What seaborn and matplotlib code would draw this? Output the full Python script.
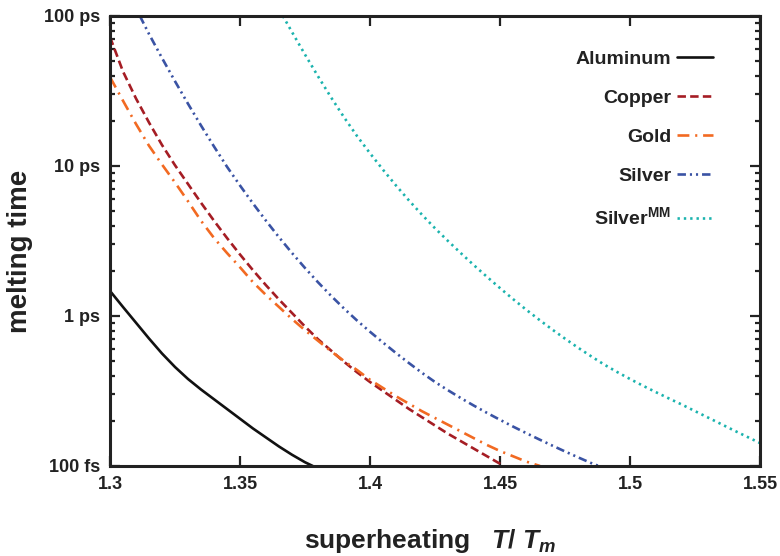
import numpy as np
import pandas as pd
import matplotlib
matplotlib.use("Agg")
import matplotlib.pyplot as plt
import seaborn as sns
from matplotlib.ticker import LogLocator, NullFormatter, FixedLocator

sns.set_theme(style="ticks")
plt.rcParams["font.family"] = ["Liberation Sans", "DejaVu Sans"]
plt.rcParams["font.weight"] = "bold"
plt.rcParams["mathtext.fontset"] = "custom"
plt.rcParams["mathtext.rm"] = "Liberation Sans:bold"
plt.rcParams["mathtext.it"] = "Liberation Sans:italic:bold"
plt.rcParams["mathtext.bf"] = "Liberation Sans:bold"

# melting time as log10(t / ps) versus superheating T/Tm
al_x = [1.300, 1.305, 1.310, 1.315, 1.320, 1.325, 1.330, 1.335, 1.340, 1.345,
        1.350, 1.355, 1.360, 1.365, 1.370, 1.375, 1.378]
al_lt = [0.167, 0.060, -0.045, -0.150, -0.250, -0.340, -0.420, -0.490, -0.555, -0.620,
         -0.685, -0.750, -0.810, -0.870, -0.925, -0.975, -1.000]

cu_x = [1.300, 1.305, 1.310, 1.315, 1.320, 1.325, 1.330, 1.335, 1.340, 1.345,
        1.350, 1.355, 1.360, 1.365, 1.370, 1.375, 1.380, 1.385, 1.390, 1.395,
        1.400, 1.405, 1.410, 1.415, 1.420, 1.425, 1.430, 1.435, 1.440, 1.445,
        1.450, 1.4515]
cu_lt = [1.860, 1.630, 1.450, 1.290, 1.140, 1.005, 0.880, 0.755, 0.635, 0.520,
         0.410, 0.305, 0.205, 0.110, 0.020, -0.070, -0.155, -0.230, -0.305, -0.375,
         -0.440, -0.500, -0.560, -0.620, -0.675, -0.730, -0.785, -0.835, -0.885, -0.935,
         -0.985, -1.000]

au_x = [1.300, 1.305, 1.310, 1.315, 1.320, 1.325, 1.330, 1.335, 1.340, 1.345,
        1.350, 1.355, 1.360, 1.365, 1.370, 1.375, 1.380, 1.385, 1.390, 1.395,
        1.400, 1.405, 1.410, 1.415, 1.420, 1.425, 1.430, 1.435, 1.440, 1.445,
        1.450, 1.455, 1.460, 1.4654]
au_lt = [1.593, 1.435, 1.280, 1.135, 1.010, 0.890, 0.765, 0.635, 0.520, 0.420,
         0.325, 0.225, 0.140, 0.060, -0.020, -0.095, -0.165, -0.235, -0.300, -0.360,
         -0.425, -0.480, -0.535, -0.585, -0.635, -0.680, -0.725, -0.770, -0.815, -0.860,
         -0.900, -0.935, -0.970, -1.000]

ag_x = [1.3115, 1.315, 1.320, 1.325, 1.330, 1.335, 1.340, 1.345, 1.350, 1.355,
        1.360, 1.365, 1.370, 1.375, 1.380, 1.385, 1.390, 1.395, 1.400, 1.405,
        1.410, 1.415, 1.420, 1.425, 1.430, 1.435, 1.440, 1.445, 1.450, 1.455,
        1.460, 1.465, 1.470, 1.475, 1.480, 1.485, 1.488]
ag_lt = [2.000, 1.880, 1.720, 1.565, 1.415, 1.270, 1.130, 0.995, 0.870, 0.750,
         0.635, 0.525, 0.420, 0.320, 0.225, 0.135, 0.050, -0.030, -0.105, -0.177,
         -0.247, -0.314, -0.379, -0.440, -0.495, -0.548, -0.598, -0.646, -0.692, -0.737,
         -0.780, -0.822, -0.863, -0.903, -0.942, -0.980, -1.000]

mm_x = [1.3665, 1.370, 1.375, 1.380, 1.385, 1.390, 1.395, 1.400, 1.405, 1.410,
        1.415, 1.420, 1.425, 1.430, 1.435, 1.440, 1.445, 1.450, 1.455, 1.460,
        1.465, 1.470, 1.475, 1.480, 1.485, 1.490, 1.495, 1.500, 1.505, 1.510,
        1.515, 1.520, 1.525, 1.530, 1.535, 1.540, 1.545, 1.550]
mm_lt = [2.000, 1.893, 1.743, 1.598, 1.458, 1.325, 1.200, 1.085, 0.975, 0.870,
         0.770, 0.675, 0.585, 0.500, 0.418, 0.338, 0.261, 0.186, 0.113, 0.043,
         -0.024, -0.089, -0.151, -0.211, -0.268, -0.323, -0.373, -0.420, -0.465, -0.508,
         -0.550, -0.591, -0.634, -0.677, -0.720, -0.763, -0.805, -0.847]

x_ticks = [1.3, 1.35, 1.4, 1.45, 1.5, 1.55]
y_ticks = [0.1, 1, 10, 100]
y_labels = ["100 fs", "1 ps", "10 ps", "100 ps"]

series = [
    ("Aluminum", al_x, al_lt, "#111111", "-"),
    ("Copper", cu_x, cu_lt, "#a51d24", (0, (3.2, 1.6))),
    ("Gold", au_x, au_lt, "#f26a22", (0, (4.5, 2.2, 0.8, 2.2))),
    ("Silver", ag_x, ag_lt, "#3a53a4", (0, (3.2, 1.5, 0.8, 1.5, 0.8, 1.5))),
    ("Silver$^{\\mathrm{MM}}$", mm_x, mm_lt, "#1bb3ae", (0, (0.9, 1.5))),
]

fig = plt.figure(figsize=(7.8, 5.56), dpi=100)
ax = fig.add_axes([110 / 780, 1 - 466 / 556, 650 / 780, 450 / 556])

for name, xs, lts, col, ls in series:
    df = pd.DataFrame({"x": xs, "t": 10.0 ** np.asarray(lts)})
    sns.lineplot(data=df, x="x", y="t", ax=ax, color=col, linestyle=ls,
                 linewidth=1.9, label=name, sort=False, estimator=None)

ax.set_yscale("log")
ax.set_xlim(1.3, 1.55)
ax.set_ylim(0.1, 100)
ax.xaxis.set_major_locator(FixedLocator(x_ticks))
ax.set_xticklabels([f"{v:g}" for v in x_ticks])
ax.yaxis.set_major_locator(FixedLocator(y_ticks))
ax.set_yticklabels(y_labels)
ax.yaxis.set_minor_locator(LogLocator(base=10, subs=np.arange(2, 10), numticks=20))
ax.yaxis.set_minor_formatter(NullFormatter())

ax.tick_params(which="both", direction="in", top=True, right=True, width=1.6,
               colors="#222222", labelsize=13, labelcolor="#222222")
ax.tick_params(which="major", length=7, pad=7)
ax.tick_params(which="minor", length=3.5)
for lab in ax.get_xticklabels() + ax.get_yticklabels():
    lab.set_fontweight("bold")
for sp in ax.spines.values():
    sp.set_linewidth(2.2)
    sp.set_color("#222222")

ax.set_xlabel("superheating   $T$/ $T_m$", fontsize=19, fontweight="bold",
              color="#222222")
ax.xaxis.set_label_coords(0.492, -0.136)
ax.set_ylabel("melting time", fontsize=20, fontweight="bold", color="#222222")
ax.yaxis.set_label_coords(-0.118, 0.476)

leg = ax.legend(loc="upper right", bbox_to_anchor=(0.955, 0.962), frameon=False,
                markerfirst=False, fontsize=14, handlelength=1.85,
                handletextpad=0.3, labelspacing=1.1)
for t in leg.get_texts():
    t.set_fontweight("bold")
    t.set_color("#222222")

fig.savefig("out.png", dpi=100)
